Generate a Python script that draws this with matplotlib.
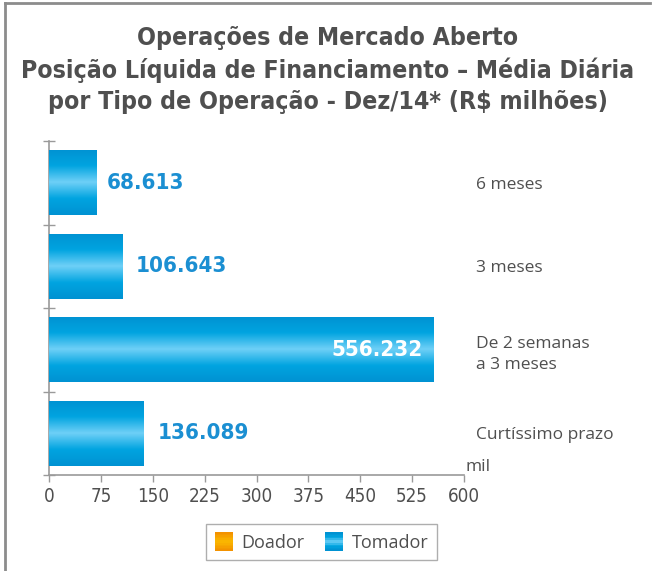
import matplotlib
matplotlib.use("Agg")
import matplotlib.pyplot as plt
import numpy as np
from matplotlib.colors import LinearSegmentedColormap
from matplotlib.patches import Rectangle
from matplotlib.lines import Line2D
from matplotlib.legend_handler import HandlerPatch
from matplotlib.font_manager import FontProperties

# ---- data ----
categories = ["6 meses", "3 meses", "De 2 semanas\na 3 meses", "Curtíssimo prazo"]
tomador = [68.613, 106.643, 556.232, 136.089]
doador = [0, 0, 0, 0]
value_labels = ["68.613", "106.643", "556.232", "136.089"]
x_ticks = [0, 75, 150, 225, 300, 375, 450, 525, 600]
title = ("Operações de Mercado Aberto\n"
         "Posição Líquida de Financiamento – Média Diária\n"
         "por Tipo de Operação - Dez/14* (R$ milhões)")

GRAY = "#4f4f4f"
BLUE_TXT = "#1b8fd2"
REG = ["Open Sans", "DejaVu Sans"]


def cond(size, weight="normal"):
    return FontProperties(family="DejaVu Sans", stretch="condensed",
                          weight=weight, size=size)


blue_cmap = LinearSegmentedColormap.from_list(
    "b", ["#0092d2", "#00a4e0", "#6fd0f7", "#00a4e0", "#0092d2"])
orange_cmap = LinearSegmentedColormap.from_list(
    "o", ["#f39200", "#fbb900", "#f39200"])

fig = plt.figure(figsize=(6.55, 5.71), dpi=100)
W, H = 655, 571
ax = fig.add_axes([49 / W, 1 - 475 / H, (464 - 49) / W, (475 - 141) / H])

y = np.arange(len(categories))
bars = ax.barh(y, tomador, height=0.78, color="#009fe3", zorder=2)
ax.barh(y, doador, height=0.78, color="#f7a600", zorder=2)

grad = np.linspace(0, 1, 256).reshape(-1, 1)
for b in bars:
    x0, y0, w, h = b.get_x(), b.get_y(), b.get_width(), b.get_height()
    im = ax.imshow(grad, cmap=blue_cmap, aspect="auto", interpolation="bicubic",
                   extent=(x0, x0 + w, y0 + h, y0), zorder=3)
    im.set_clip_path(b)

ax.set_xlim(0, 600)
ax.set_ylim(3.5, -0.5)

for i, (v, lab) in enumerate(zip(tomador, value_labels)):
    if v > 400:
        ax.annotate(lab, (v, i), xytext=(-8, 0), textcoords="offset points",
                    ha="right", va="center", color="white",
                    fontproperties=cond(16, "bold"), zorder=5)
    else:
        ax.annotate(lab, (v, i), xytext=(4 + 0.05 * v, 0), textcoords="offset points",
                    ha="left", va="center", color=BLUE_TXT,
                    fontproperties=cond(16, "bold"), zorder=5)

for s in ["top", "right"]:
    ax.spines[s].set_visible(False)
for s in ["left", "bottom"]:
    ax.spines[s].set_color("#9a9a9a")
    ax.spines[s].set_linewidth(1.2)

ax.set_xticks(x_ticks)
ax.set_xticklabels([str(t) for t in x_ticks], color=GRAY)
for t in ax.get_xticklabels():
    t.set_fontproperties(cond(13.5))
ax.tick_params(axis="x", direction="out", length=5, color="#9a9a9a", width=1, pad=4)

ax.set_yticks(y)
ax.set_yticklabels(categories, family=REG, fontsize=12.5, color=GRAY, ha="left",
                   linespacing=1.45)
ax.set_yticks(np.arange(-0.5, len(categories), 1), minor=True)
ax.tick_params(axis="y", which="major", left=False, right=False,
               labelleft=False, labelright=True, pad=5)
ax.tick_params(axis="y", which="minor", direction="inout", length=8,
               color="#9a9a9a", width=1)

ax.text(1.004, 0.0, "mil", transform=ax.transAxes, ha="left", va="bottom",
        family=REG, fontsize=12.5, color=GRAY)

fig.text(0.5, 1 - 70 / H, title, ha="center", va="center",
         fontproperties=cond(17.8, "bold"), color=GRAY, linespacing=1.38)


class GradHandler(HandlerPatch):
    def __init__(self, cmap):
        super().__init__()
        self.cmap = cmap

    def create_artists(self, legend, orig_handle, xdescent, ydescent, width,
                       height, fontsize, trans):
        n = 12
        arts = []
        for k in range(n):
            r = Rectangle((-xdescent, -ydescent + height * k / n), width, height / n,
                          facecolor=self.cmap(1 - k / (n - 1)), edgecolor="none",
                          transform=trans)
            arts.append(r)
        return arts


hd = Rectangle((0, 0), 1, 1, color="#f7a600")
ht = Rectangle((0, 0), 1, 1, color="#009fe3")
leg = fig.legend([hd, ht], ["Doador", "Tomador"], loc="center",
                 bbox_to_anchor=(321.5 / W, 1 - 542 / H), ncol=2, frameon=True,
                 fancybox=False, edgecolor="#9a9a9a", handlelength=1.0,
                 handleheight=1.2, handletextpad=0.5, columnspacing=1.1,
                 borderpad=0.45, prop={"family": REG, "size": 13},
                 handler_map={hd: GradHandler(orange_cmap), ht: GradHandler(blue_cmap)})
for t in leg.get_texts():
    t.set_color(GRAY)

fig.add_artist(Line2D([5 / W, 650 / W], [1 - 3 / H, 1 - 3 / H], color="#8c8c8c",
                      lw=2, transform=fig.transFigure))
fig.add_artist(Line2D([5 / W, 5 / W], [1 - 3 / H, 0], color="#8c8c8c",
                      lw=2, transform=fig.transFigure))

fig.savefig("out.png", dpi=100, facecolor="white")
